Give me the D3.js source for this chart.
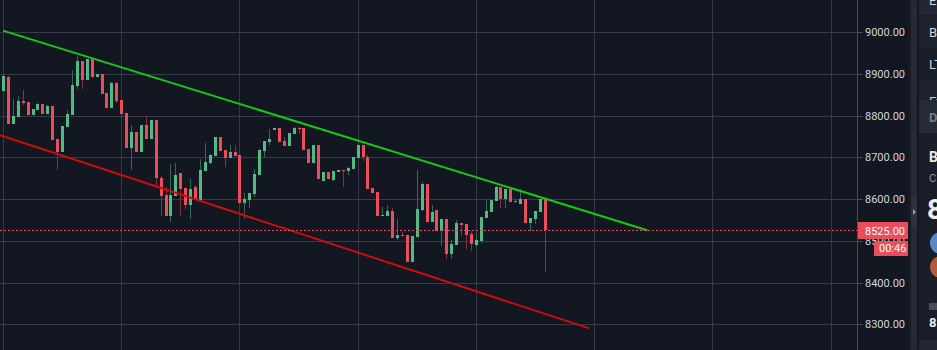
<!DOCTYPE html>
<html><head><meta charset="utf-8">
<script src="https://cdn.jsdelivr.net/npm/d3@7"></script>
<style>html,body{margin:0;padding:0;background:#131722;overflow:hidden}</style>
</head><body>
<svg id="c" width="937" height="350"></svg>
<script>
// ---- data ----
const opens  = [8859,8892,8781,8797,8835,8833,8802,8814,8828,8804,8823,8744,8713,8773,8802,8871,8931,8886,8936,8893,8900,8854,8818,8878,8838,8806,8722,8761,8713,8777,8744,8790,8650,8609,8559,8607,8662,8626,8585,8629,8598,8667,8686,8703,8749,8717,8698,8713,8706,8590,8598,8612,8658,8715,8737,8765,8770,8739,8727,8756,8770,8770,8720,8686,8730,8643,8665,8646,8665,8670,8667,8672,8698,8730,8701,8626,8617,8559,8559,8571,8506,8513,8513,8449,8509,8574,8636,8545,8574,8523,8552,8468,8490,8542,8540,8516,8490,8499,8554,8569,8595,8629,8600,8624,8595,8588,8600,8542,8552,8569,8600];
const highs  = [8900,8895,8840,8847,8862,8833,8816,8830,8828,8826,8823,8744,8775,8814,8909,8943,8931,8936,8936,8900,8900,8854,8881,8881,8838,8806,8777,8761,8777,8799,8790,8790,8655,8629,8684,8686,8662,8626,8648,8634,8696,8734,8708,8749,8749,8717,8730,8730,8706,8614,8614,8672,8720,8739,8768,8770,8770,8749,8758,8773,8773,8770,8720,8730,8730,8665,8665,8667,8670,8670,8677,8701,8730,8730,8706,8626,8617,8581,8586,8578,8552,8521,8513,8511,8670,8641,8636,8586,8574,8552,8552,8502,8550,8542,8540,8523,8518,8557,8600,8598,8631,8629,8624,8624,8600,8624,8600,8554,8571,8600,8602];
const lows   = [8859,8781,8781,8797,8826,8802,8802,8814,8804,8804,8742,8670,8713,8773,8802,8864,8864,8886,8890,8893,8852,8817,8818,8830,8794,8722,8670,8713,8713,8744,8744,8630,8559,8559,8545,8607,8559,8576,8552,8600,8598,8667,8684,8703,8715,8677,8698,8703,8590,8552,8578,8605,8658,8701,8730,8765,8737,8727,8727,8756,8756,8718,8686,8686,8648,8643,8648,8643,8665,8629,8658,8672,8698,8691,8624,8614,8559,8559,8559,8506,8502,8511,8449,8449,8509,8571,8545,8545,8523,8487,8456,8456,8490,8511,8480,8475,8485,8494,8554,8569,8595,8578,8578,8593,8590,8588,8542,8523,8540,8569,8425];
const closes = [8895,8781,8799,8835,8830,8802,8816,8828,8804,8823,8742,8713,8775,8804,8874,8931,8886,8936,8893,8900,8852,8818,8878,8835,8804,8722,8761,8713,8777,8744,8790,8650,8607,8559,8609,8657,8624,8585,8624,8600,8670,8689,8706,8749,8715,8698,8713,8703,8590,8600,8614,8660,8718,8739,8744,8770,8737,8727,8758,8770,8768,8718,8686,8730,8648,8665,8648,8667,8670,8667,8674,8701,8730,8701,8624,8614,8559,8561,8571,8506,8513,8511,8449,8511,8576,8636,8545,8569,8523,8552,8468,8492,8542,8538,8514,8492,8502,8557,8571,8598,8629,8600,8624,8593,8593,8600,8542,8554,8571,8600,8525];
const priceTicks = [8300,8400,8500,8600,8700,8800,8900,9000];
const gridBars = [0,24,48,72,96,120,144,168];
const lastPrice = 8525;
const countdown = "00:46";
const upperTrend = [[0,9004],[130.8,8525.3]];
const lowerTrend = [[-0.6,8753],[119.06,8290]];

// ---- scales ----
const W = 937, H = 350, plotRight = 858;
const x = d3.scaleLinear().domain([0,168]).range([3,830.5]);
const y = d3.scaleLinear().domain([8300,9000]).range([324.2,32.3]);
const svg = d3.select("#c");
const C = {bg:"#131722", grid:"#363a48", up:"#53b987", down:"#eb4d5c", upW:"#336854", downW:"#7f323f", text:"#d1d4dc"};
const FONT = "Roboto, sans-serif", FS = "11px";

svg.append("rect").attr("width",W).attr("height",H).attr("fill",C.bg);
svg.append("defs").append("clipPath").attr("id","plot").append("rect").attr("x",0).attr("y",0).attr("width",plotRight).attr("height",H);
const plot = svg.append("g").attr("clip-path","url(#plot)");

// grid
plot.append("g").selectAll("line").data(priceTicks).join("line")
  .attr("x1",0).attr("x2",plotRight).attr("y1",d=>Math.round(y(d))+0.5).attr("y2",d=>Math.round(y(d))+0.5)
  .attr("stroke",C.grid).attr("shape-rendering","crispEdges");
plot.append("g").selectAll("line").data(gridBars).join("line")
  .attr("y1",0).attr("y2",H).attr("x1",d=>Math.round(x(d))+0.5).attr("x2",d=>Math.round(x(d))+0.5)
  .attr("stroke",C.grid).attr("shape-rendering","crispEdges");

// candles
const idx = d3.range(opens.length);
const cg = plot.append("g").attr("shape-rendering","crispEdges");
cg.selectAll("line").data(idx).join("line")
  .attr("x1",i=>Math.round(x(i))+0.5).attr("x2",i=>Math.round(x(i))+0.5)
  .attr("y1",i=>y(highs[i])).attr("y2",i=>y(lows[i]))
  .attr("stroke",i=>closes[i]>=opens[i]?C.upW:C.downW);
cg.selectAll("rect").data(idx).join("rect")
  .attr("x",i=>Math.round(x(i))-1).attr("width",3)
  .attr("y",i=>y(Math.max(opens[i],closes[i])))
  .attr("height",i=>Math.max(1,Math.abs(y(opens[i])-y(closes[i]))))
  .attr("fill",i=>closes[i]>=opens[i]?C.up:C.down);

// trend lines
const ln = d3.line().x(d=>x(d[0])).y(d=>y(d[1]));
plot.append("path").attr("d",ln(upperTrend)).attr("stroke","#14c814").attr("stroke-width",2).attr("fill","none");
plot.append("path").attr("d",ln(lowerTrend)).attr("stroke","#cc0c0c").attr("stroke-width",2).attr("fill","none");

// last price dotted line
plot.append("line").attr("x1",0).attr("x2",plotRight).attr("y1",Math.round(y(lastPrice))+0.5).attr("y2",Math.round(y(lastPrice))+0.5)
  .attr("stroke",C.down).attr("stroke-dasharray","2,2").attr("shape-rendering","crispEdges");

// price axis
svg.append("line").attr("x1",plotRight-0.5).attr("x2",plotRight-0.5).attr("y1",0).attr("y2",H).attr("stroke","#4a4e5a").attr("shape-rendering","crispEdges");
const ax = svg.append("g").attr("transform",`translate(${plotRight},0)`)
  .call(d3.axisRight(y).tickValues(priceTicks).tickFormat(d3.format(".2f")).tickSize(5).tickPadding(2));
ax.select(".domain").remove();
ax.selectAll(".tick line").attr("stroke","#4a4e5a").attr("shape-rendering","crispEdges");
ax.selectAll(".tick text").attr("fill",C.text).attr("font-family",FONT).attr("font-size",FS);

// last price labels
const ly = y(lastPrice);
svg.append("rect").attr("x",858).attr("y",Math.round(ly)-8).attr("width",50).attr("height",17).attr("fill",C.down);
svg.append("text").attr("x",865).attr("y",ly+0.5).attr("dy","0.35em").attr("fill","#fff").attr("font-family",FONT).attr("font-size",FS).text(d3.format(".2f")(lastPrice));
svg.append("rect").attr("x",874).attr("y",Math.round(ly)+11).attr("width",34).attr("height",15).attr("fill",C.down);
svg.append("text").attr("x",879).attr("y",Math.round(ly)+18.5).attr("dy","0.35em").attr("fill","#fff").attr("font-family",FONT).attr("font-size",FS).text(countdown);

// right side panel
svg.append("rect").attr("x",908).attr("y",0).attr("width",3).attr("height",H).attr("fill","#181b26");
svg.append("rect").attr("x",911).attr("y",0).attr("width",6).attr("height",H).attr("fill","#262a36");
svg.append("rect").attr("x",911).attr("y",197).attr("width",6).attr("height",30).attr("fill","#2e3240");
svg.append("path").attr("d","M913,209 L916,212 L913,215 Z").attr("fill","#9598a1");
svg.append("rect").attr("x",917).attr("y",0).attr("width",2).attr("height",H).attr("fill","#131722");
const P = svg.append("g").attr("font-family",FONT);
P.append("rect").attr("x",919).attr("y",0).attr("width",18).attr("height",H).attr("fill","#1a1e29");
P.append("rect").attr("x",919).attr("y",0).attr("width",18).attr("height",15).attr("fill","#232735");
P.append("text").attr("x",929).attr("y",5).attr("fill",C.text).attr("font-size","13px").text("E");
P.append("rect").attr("x",919).attr("y",16).attr("width",18).attr("height",32).attr("fill","#1e222d");
P.append("text").attr("x",929).attr("y",37).attr("fill",C.text).attr("font-size","13px").text("Bc");
P.append("text").attr("x",929).attr("y",69).attr("fill",C.text).attr("font-size","13px").text("LT");
P.append("rect").attr("x",919).attr("y",80).attr("width",18).attr("height",20).attr("fill","#1e222d");
P.append("text").attr("x",929).attr("y",106).attr("fill",C.text).attr("font-size","13px").text("Et");
P.append("rect").attr("x",919).attr("y",100).attr("width",18).attr("height",33).attr("fill","#262a37");
P.append("text").attr("x",929).attr("y",122).attr("fill","#787b86").attr("font-size","13px").attr("font-weight","bold").text("D");
P.append("text").attr("x",929).attr("y",162).attr("fill","#e6e8ee").attr("font-size","14px").attr("font-weight","bold").text("B");
P.append("text").attr("x",929).attr("y",182).attr("fill","#9598a1").attr("font-size","11px").text("C");
P.append("text").attr("x",927).attr("y",219).attr("fill","#eceef2").attr("font-size","28px").attr("font-weight","bold").text("8");
P.append("circle").attr("cx",941).attr("cy",243).attr("r",11).attr("fill","#5a87c8");
P.append("circle").attr("cx",941).attr("cy",267).attr("r",11).attr("fill","#b45a3e");
P.append("rect").attr("x",929).attr("y",303).attr("width",8).attr("height",7).attr("fill","#4a4e5a");
P.append("text").attr("x",929).attr("y",327).attr("fill","#eceef2").attr("font-size","13px").attr("font-weight","bold").text("8");
P.append("rect").attr("x",919).attr("y",340).attr("width",18).attr("height",10).attr("fill","#232735");
</script>
</body></html>
